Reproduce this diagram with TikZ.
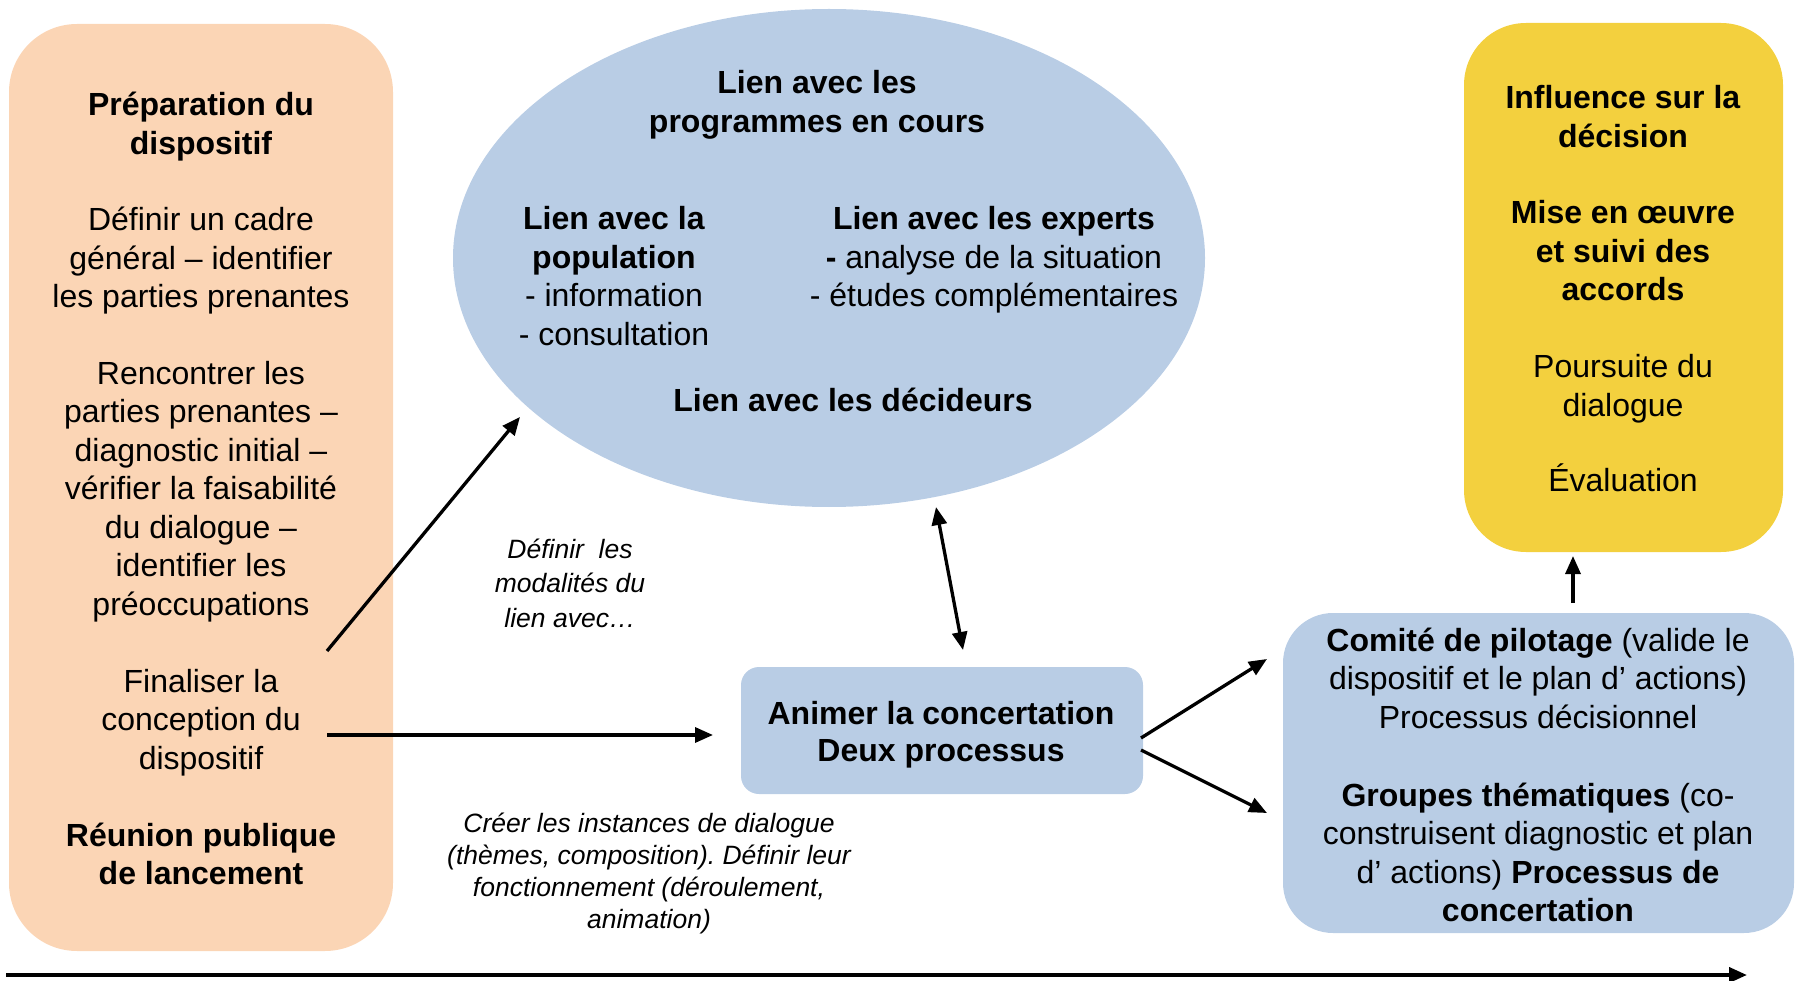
\documentclass[tikz,border=0pt]{standalone}
\usepackage{fontspec}
\setmainfont{Liberation Sans}
\usetikzlibrary{arrows.meta,shapes.geometric}
\definecolor{peach}{RGB}{251,213,181}
\definecolor{bluegray}{RGB}{185,205,229}
\definecolor{gold}{RGB}{243,208,62}
\frenchspacing
\begin{document}
\begin{tikzpicture}[x=1pt,y=-1pt,
 panel/.style={inner sep=0pt, outer sep=0pt, draw=none},
 txt/.style={align=center, anchor=base, inner sep=0pt, font=\fontsize{32}{38.5}\selectfont},
 itxt/.style={align=center, anchor=base, inner sep=0pt, font=\fontsize{26.5}{32}\selectfont\itshape},
 arr/.style={line width=3.3pt, -{Triangle[length=18pt,width=15pt]}},
 darr/.style={line width=3.3pt, {Triangle[length=18pt,width=15pt]}-{Triangle[length=18pt,width=15pt]}},
]
\useasboundingbox (0,0) rectangle (1800,981);
% panels
\node[panel, fill=peach, rounded corners=68pt, minimum width=384pt, minimum height=927pt] (prep) at (201,487.5) {};
\node[panel, fill=bluegray, ellipse, minimum width=752pt, minimum height=498pt] (ell) at (829,258) {};
\node[panel, fill=gold, rounded corners=62pt, minimum width=319pt, minimum height=529pt] (infl) at (1623.5,287.5) {};
\node[panel, fill=bluegray, rounded corners=18pt, minimum width=402pt, minimum height=127pt] (anim) at (942,730.5) {};
\node[panel, fill=bluegray, rounded corners=50pt, minimum width=511pt, minimum height=320pt] (comite) at (1538.5,773) {};
% orange texts (anchor = baseline of last line)
\node[txt] (o1) at (201,154.5) {\textbf{Préparation du}\\\textbf{dispositif}};
\node[txt] (o2) at (201,308) {Définir un cadre\\général – identifier\\les parties prenantes};
\node[txt] (o3) at (201,615) {Rencontrer les\\parties prenantes –\\diagnostic initial –\\vérifier la faisabilité\\du dialogue –\\identifier les\\préoccupations};
\node[txt] (o4) at (201,769) {Finaliser la\\conception du\\dispositif};
\node[txt] (o5) at (201,884.5) {\textbf{Réunion publique}\\\textbf{de lancement}};
% ellipse texts
\node[txt] (e1) at (817,132.5) {\textbf{Lien avec les}\\\textbf{programmes en cours}};
\node[txt] (e2) at (614,345.5) {\textbf{Lien avec la}\\\textbf{population}\\- information\\- consultation};
\node[txt] (e3) at (994,307) {\textbf{Lien avec les experts}\\\textbf{-} analyse de la situation\\- études complémentaires};
\node[txt] (e4) at (853,412) {\textbf{Lien avec les décideurs}};
% italic labels
\node[itxt, font=\fontsize{26.5}{34.5}\selectfont\itshape] (i1) at (570,627) {Définir\ \ les\\modalités du\\lien avec…};
\node[itxt] (i2) at (649,928) {Créer les instances de dialogue\\(thèmes, composition). Définir leur\\fonctionnement (déroulement,\\animation)};
% animer
\node[txt, font=\fontsize{32}{37}\selectfont] (a1) at (941,761) {\textbf{Animer la concertation}\\\textbf{Deux processus}};
% comite
\node[txt] (c1) at (1538,728) {\textbf{Comité de pilotage} (valide le\\dispositif et le plan d’ actions)\\Processus décisionnel};
\node[txt] (c2) at (1538,921.5) {\textbf{Groupes thématiques} (co-\\construisent diagnostic et plan\\d’ actions) \textbf{Processus de}\\\textbf{concertation}};
% yellow
\node[txt] (y1) at (1623,147.5) {\textbf{Influence sur la}\\\textbf{décision}};
\node[txt] (y2) at (1623,301) {\textbf{Mise en œuvre}\\\textbf{et suivi des}\\\textbf{accords}};
\node[txt] (y3) at (1623,416.5) {Poursuite du\\dialogue};
\node[txt] (y4) at (1623,492) {Évaluation};
% connector coordinates
\coordinate (p1s) at (327,651);
\coordinate (p1e) at (520,417);
\coordinate (p2s) at (327,735);
\coordinate (p2e) at (713,735);
\coordinate (dA) at (936,507);
\coordinate (dB) at (963,650);
\coordinate (c1s) at (1141,738);
\coordinate (c1e) at (1267,659);
\coordinate (c2s) at (1141,750);
\coordinate (c2e) at (1267,813);
\coordinate (us) at (1573,603);
\coordinate (ue) at (1573,556);
\coordinate (ts) at (6,975);
\coordinate (te) at (1747,975);
\draw[arr] (p1s) -- (p1e);
\draw[arr] (p2s) -- (p2e);
\draw[darr] (dA) -- (dB);
\draw[arr] (c1s) -- (c1e);
\draw[arr] (c2s) -- (c2e);
\draw[arr] (us) -- (ue);
\draw[arr, line width=3.8pt] (ts) -- (te);
\end{tikzpicture}
\end{document}
